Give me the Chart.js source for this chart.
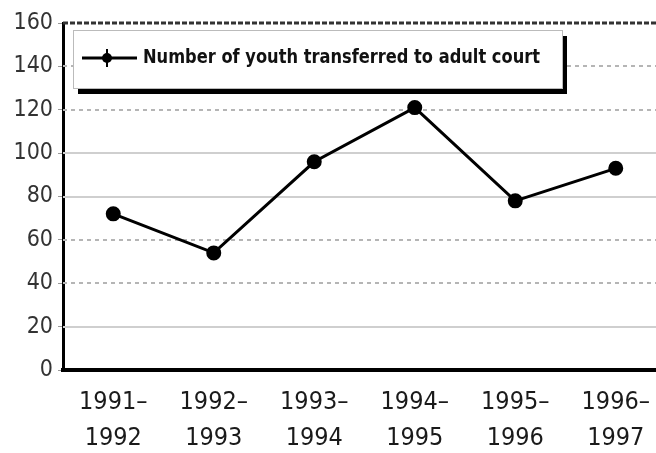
<!DOCTYPE html>
<html>
<head>
<meta charset="utf-8">
<script src="https://cdn.jsdelivr.net/npm/chart.js@4.4.0/dist/chart.umd.min.js"></script>
<style>
  html, body { margin: 0; padding: 0; background: #fff; overflow: hidden; }
  #wrap { width: 675px; height: 453px; position: relative; }
</style>
</head>
<body>
<div id="wrap"><canvas id="chart"></canvas></div>
<script>
// data
const periods = [
  ['1991–', '1992'], ['1992–', '1993'], ['1993–', '1994'],
  ['1994–', '1995'], ['1995–', '1996'], ['1996–', '1997']
];
const youthTransferred = [72, 54, 96, 121, 78, 93];
const seriesLabel = 'Number of youth transferred to adult court';
const yMin = 0, yMax = 160, yStep = 20;
const solidGrid = [20, 80, 100];
const dottedGrid = [40, 60, 120, 140];

const FONT = "'DejaVu Sans Condensed', 'Liberation Sans', sans-serif";

// grid lines: the original mixes solid and dotted ones
const gridPlugin = {
  id: 'mixedGrid',
  beforeDatasetsDraw(chart) {
    const { ctx, chartArea: a, scales: { y } } = chart;
    ctx.save();
    ctx.lineWidth = 2;
    ctx.strokeStyle = '#cfcfcf';
    solidGrid.forEach(v => {
      const py = Math.round(y.getPixelForValue(v));
      ctx.beginPath(); ctx.moveTo(a.left, py); ctx.lineTo(a.right, py); ctx.stroke();
    });
    ctx.strokeStyle = '#b5b5b5';
    ctx.setLineDash([4, 4]);
    dottedGrid.forEach(v => {
      const py = Math.round(y.getPixelForValue(v));
      ctx.beginPath(); ctx.moveTo(a.left, py); ctx.lineTo(a.right, py); ctx.stroke();
    });
    // dark dashed top frame
    ctx.strokeStyle = '#333';
    ctx.lineWidth = 3;
    ctx.setLineDash([5, 2]);
    ctx.beginPath(); ctx.moveTo(a.left, a.top); ctx.lineTo(a.right, a.top); ctx.stroke();
    ctx.restore();
  }
};

// boxed legend with black drop shadow, inside the plot
const boxLegend = {
  id: 'boxLegend',
  afterDraw(chart) {
    const ctx = chart.ctx;
    const x = 73, y = 30, w = 489, h = 58;
    ctx.save();
    ctx.fillStyle = '#000';
    ctx.fillRect(x + 5, y + 6, w, h);
    ctx.fillStyle = '#fff';
    ctx.fillRect(x, y, w, h);
    ctx.strokeStyle = '#bbb';
    ctx.lineWidth = 1;
    ctx.strokeRect(x + 0.5, y + 0.5, w, h);

    const my = y + 28;
    ctx.strokeStyle = '#000';
    ctx.lineWidth = 3;
    ctx.beginPath(); ctx.moveTo(82, my); ctx.lineTo(137, my); ctx.stroke();
    ctx.fillStyle = '#000';
    ctx.beginPath(); ctx.arc(107, my, 5, 0, Math.PI * 2); ctx.fill();
    ctx.lineWidth = 2;
    ctx.beginPath(); ctx.moveTo(107, my - 9); ctx.lineTo(107, my + 9); ctx.stroke();

    ctx.font = 'bold 20px ' + FONT;
    ctx.textBaseline = 'middle';
    ctx.fillStyle = '#111';
    const tw = ctx.measureText(seriesLabel).width;
    const target = 397;
    ctx.translate(143, my);
    ctx.scale(target / tw, 1);
    ctx.fillText(chart.data.datasets[0].label, 0, 0);
    ctx.restore();
  }
};

new Chart(document.getElementById('chart'), {
  type: 'line',
  data: {
    labels: periods,
    datasets: [{
      label: seriesLabel,
      data: youthTransferred,
      borderColor: '#000',
      backgroundColor: '#000',
      borderWidth: 3,
      pointRadius: 6,
      pointHoverRadius: 6,
      pointStyle: 'circle',
      tension: 0
    }]
  },
  options: {
    responsive: true,
    maintainAspectRatio: false,
    animation: false,
    layout: { padding: { top: 23, left: 0, right: 0, bottom: 0 } },
    plugins: { legend: { display: false }, tooltip: { enabled: false } },
    scales: {
      x: {
        offset: true,
        grid: { drawOnChartArea: false, drawTicks: false },
        border: { color: '#000', width: 4 },
        ticks: {
          color: '#1a1a1a',
          padding: 14,
          maxRotation: 0,
          font: { family: FONT, size: 25, lineHeight: 1.44 }
        },
        afterFit(s) { s.height = 83; }
      },
      y: {
        min: yMin,
        max: yMax,
        grid: { drawOnChartArea: false, tickLength: 5, color: '#999' },
        border: { color: '#000', width: 3 },
        ticks: {
          stepSize: yStep,
          color: '#333',
          padding: 5,
          font: { family: FONT, size: 23 }
        },
        afterFit(s) { s.width = 63; }
      }
    }
  },
  plugins: [gridPlugin, boxLegend]
});
</script>
</body>
</html>
